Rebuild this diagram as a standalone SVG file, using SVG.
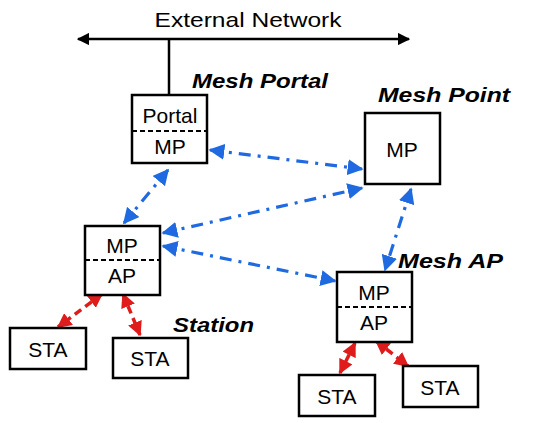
<svg xmlns="http://www.w3.org/2000/svg" width="536" height="423" viewBox="0 0 536 423">
<defs>
<style>
.box{fill:#fff;stroke:#000;stroke-width:2.5}
.div{stroke:#000;stroke-width:2;stroke-dasharray:5 3}
.t{font-family:"Liberation Sans",Arial,sans-serif;font-size:21px;text-anchor:middle;fill:#000}
.lbl{font-family:"Liberation Sans",Arial,sans-serif;font-size:21px;font-weight:bold;font-style:italic;fill:#000}
.blue{stroke:#1f6ae0;stroke-width:3.2;fill:none;stroke-dasharray:12 7 3 7;marker-start:url(#bh);marker-end:url(#bh)}
.red{stroke:#e01b1b;stroke-width:3.5;fill:none;stroke-dasharray:8 5;marker-start:url(#rh);marker-end:url(#rh)}
</style>
<marker id="bh" viewBox="0 0 10 10" refX="9" refY="5" markerWidth="5" markerHeight="5" orient="auto-start-reverse" markerUnits="strokeWidth"><path d="M0,0L10,5L0,10z" fill="#1f6ae0"/></marker>
<marker id="rh" viewBox="0 0 10 10" refX="9" refY="5" markerWidth="4.2" markerHeight="4.2" orient="auto-start-reverse" markerUnits="strokeWidth"><path d="M0,0L10,5L0,10z" fill="#e01b1b"/></marker>
<marker id="kh" viewBox="0 0 10 10" refX="9" refY="5" markerWidth="5" markerHeight="5" orient="auto-start-reverse" markerUnits="strokeWidth"><path d="M0,0L10,5L0,10z" fill="#000"/></marker>
</defs>
<g id="external-network">
<text class="t" x="248" y="27" textLength="187" lengthAdjust="spacingAndGlyphs">External Network</text>
<line x1="78" y1="39" x2="409" y2="39" stroke="#000" stroke-width="2.5" marker-start="url(#kh)" marker-end="url(#kh)"/>
<line x1="169" y1="39" x2="169" y2="95" stroke="#000" stroke-width="2.5"/>
</g>
<g id="connectors">
<line class="blue" x1="210" y1="150" x2="362" y2="169"/>
<line class="blue" x1="168" y1="170" x2="124" y2="223"/>
<line class="blue" x1="163" y1="233" x2="362" y2="188"/>
<line class="blue" x1="163" y1="246" x2="335" y2="281"/>
<line class="blue" x1="411" y1="189" x2="385" y2="270"/>
<line class="red" x1="102" y1="294" x2="58" y2="327"/>
<line class="red" x1="123" y1="294" x2="140" y2="335"/>
<line class="red" x1="355" y1="343" x2="340" y2="373"/>
<line class="red" x1="376" y1="341" x2="408" y2="366"/>
</g>
<g id="mesh-portal">
<rect class="box" x="132" y="95" width="75" height="68"/>
<line class="div" x1="132" y1="131" x2="207" y2="131"/>
<text class="t" x="170" y="123">Portal</text>
<text class="t" x="170" y="154">MP</text>
<text class="lbl" x="192" y="88" textLength="136" lengthAdjust="spacingAndGlyphs">Mesh Portal</text>
</g>
<g id="mesh-point">
<rect class="box" x="365" y="113" width="75" height="71"/>
<text class="t" x="402" y="157">MP</text>
<text class="lbl" x="378" y="102" textLength="132" lengthAdjust="spacingAndGlyphs">Mesh Point</text>
</g>
<g id="mp-ap-left">
<rect class="box" x="85" y="226" width="75" height="69"/>
<line class="div" x1="85" y1="260" x2="160" y2="260"/>
<text class="t" x="122" y="253">MP</text>
<text class="t" x="122" y="283">AP</text>
</g>
<g id="mesh-ap">
<rect class="box" x="337" y="272" width="75" height="70"/>
<line class="div" x1="337" y1="307" x2="412" y2="307"/>
<text class="t" x="374" y="300">MP</text>
<text class="t" x="374" y="330">AP</text>
<text class="lbl" x="398" y="268" textLength="105" lengthAdjust="spacingAndGlyphs">Mesh AP</text>
</g>
<g id="sta1">
<rect class="box" x="10" y="328" width="76" height="41"/>
<text class="t" x="48" y="357">STA</text>
</g>
<g id="sta2">
<rect class="box" x="113" y="338" width="75" height="40"/>
<text class="t" x="150" y="366">STA</text>
<text class="lbl" x="173" y="332" textLength="81" lengthAdjust="spacingAndGlyphs">Station</text>
</g>
<g id="sta3">
<rect class="box" x="299" y="375" width="76" height="41"/>
<text class="t" x="337" y="404">STA</text>
</g>
<g id="sta4">
<rect class="box" x="403" y="366" width="75" height="41"/>
<text class="t" x="440" y="395">STA</text>
</g>
</svg>
